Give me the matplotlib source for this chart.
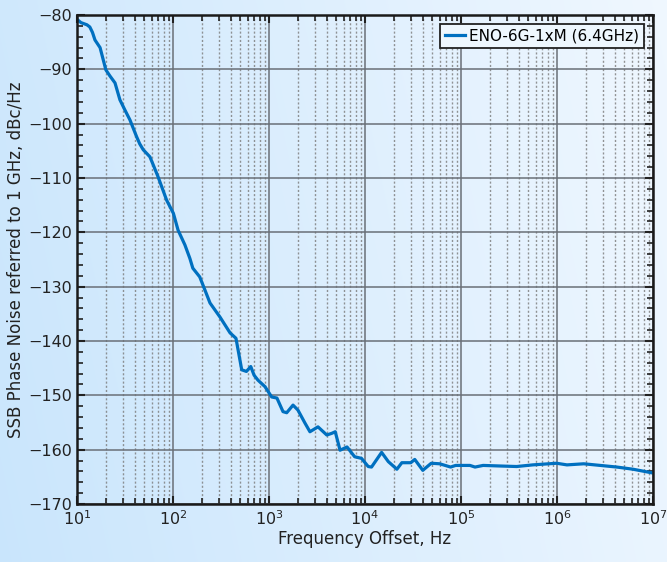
import matplotlib
matplotlib.use("Agg")
import matplotlib.pyplot as plt
import numpy as np
from matplotlib.ticker import LogLocator, MultipleLocator

# SSB phase noise, referred to 1 GHz
freq_hz = [10, 11, 12.7, 13.6, 14.5, 15.4, 17.4, 20, 22, 24.9, 28, 31.6, 35.6,
           41.8, 45, 49, 57.5, 63, 70, 86, 101, 113, 133, 150, 161, 190, 215,
           243, 309, 393, 453, 520, 582, 646, 700, 767, 908, 1067, 1210, 1400,
           1530, 1780, 2000, 2370, 2670, 3240, 4000, 4500, 4900, 5500, 6500,
           7800, 9200, 10800, 11700, 14900, 17500, 21500, 24200, 30000, 33000,
           40000, 49000, 60000, 78000, 88000, 124000, 140000, 170000, 250000,
           380000, 560000, 990000, 1.27e6, 1.9e6, 4.2e6, 6.2e6, 1e7]
noise_dbc = [-80.8, -81.4, -81.8, -82.2, -83.2, -84.6, -86.0, -90.1, -91.2,
             -92.5, -95.6, -97.5, -99.3, -102.4, -103.7, -104.8, -106.1, -107.8,
             -109.8, -114.1, -116.5, -119.6, -122.3, -124.8, -126.6, -128.2,
             -130.6, -133.0, -135.6, -138.5, -139.5, -145.3, -145.6, -144.7,
             -146.3, -147.2, -148.4, -150.3, -150.5, -153.0, -153.2, -151.8,
             -152.7, -155.1, -156.7, -155.8, -157.3, -157.0, -156.7, -160.1,
             -159.5, -161.3, -161.6, -163.1, -163.2, -160.5, -162.2, -163.6,
             -162.4, -162.4, -161.8, -163.8, -162.5, -162.6, -163.2, -162.9,
             -162.9, -163.2, -162.9, -163.0, -163.1, -162.8, -162.5, -162.8,
             -162.6, -163.2, -163.6, -164.3]
series_name = "ENO-6G-1xM (6.4GHz)"

W, H = 667, 562
fig = plt.figure(figsize=(W / 100, H / 100), dpi=100)

# light blue gradient behind everything
xx, yy = np.meshgrid(np.linspace(0, 1, W), np.linspace(0, 1, H))
t = np.clip(0.85 * xx + 0.15 * (1 - yy), 0, 1)
c0 = np.array([0.79, 0.90, 0.99])
c1 = np.array([0.94, 0.97, 1.0])
img = c0 + (c1 - c0) * t[..., None]
fig.figimage(img, xo=0, yo=0, origin="upper", zorder=-10)

ax = fig.add_axes([0.1154, 0.1032, 0.8636, 0.8701])
ax.set_facecolor("none")
ax.semilogx(freq_hz, noise_dbc, color="#0070c0", lw=2.3, label=series_name)

ax.set_xlim(10, 1e7)
ax.set_ylim(-170, -80)
ax.yaxis.set_major_locator(MultipleLocator(10))
ax.yaxis.set_minor_locator(MultipleLocator(2))
ax.xaxis.set_major_locator(LogLocator(base=10, numticks=10))
ax.xaxis.set_minor_locator(LogLocator(base=10, subs=np.arange(2, 10), numticks=20))

ax.grid(which="major", color="#6a7078", lw=1.3, alpha=0.85)
ax.grid(which="minor", axis="x", color="#7a7a7a", lw=1.0, ls=(0, (1.5, 1.5)), alpha=0.8)

ax.tick_params(which="both", direction="in", top=True, right=True, labelsize=11.5,
               colors="#222222", labelcolor="#222222")
ax.tick_params(which="major", length=6, width=1.5)
ax.tick_params(which="minor", length=4, width=1.2)
for s in ax.spines.values():
    s.set_linewidth(1.8)
    s.set_color("#1a1a1a")

ax.set_xlabel("Frequency Offset, Hz", fontsize=12, color="#222222", labelpad=2)
ax.set_ylabel("SSB Phase Noise referred to 1 GHz, dBc/Hz", fontsize=12,
              color="#222222", labelpad=2)

leg = ax.legend(loc="upper right", fontsize=11, fancybox=False, framealpha=1,
                facecolor="#eef7fe", edgecolor="#222222", handlelength=1.3,
                handletextpad=0.3, borderpad=0.3, borderaxespad=0.6)
leg.get_frame().set_linewidth(1.3)

fig.savefig("out.png", dpi=100)
